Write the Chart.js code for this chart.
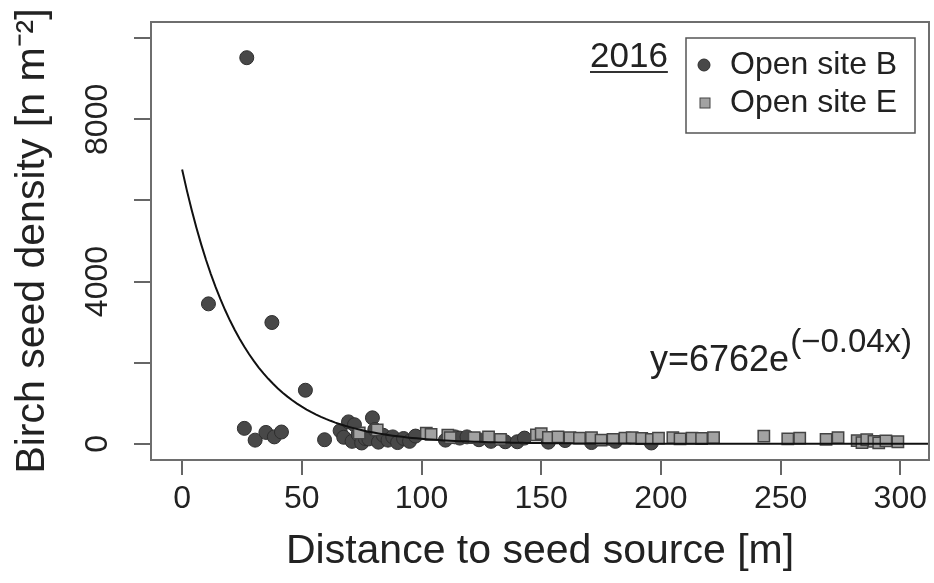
<!DOCTYPE html>
<html>
<head>
<meta charset="utf-8">
<script src="https://cdn.jsdelivr.net/npm/chart.js@4.4.1/dist/chart.umd.min.js"></script>
<style>
  html, body { margin: 0; padding: 0; background: #fff; }
  #wrap { width: 934px; height: 583px; }
</style>
</head>
<body>
<div id="wrap"><canvas id="myChart" width="934" height="583"></canvas></div>
<script>
// open site B (circles)
const siteB_x = [11, 27, 37.5, 51.5, 26, 30.5, 35, 38.5, 41.5, 59.5,
  66, 67.5, 69.5, 71, 72, 73.5, 75, 76.5, 78, 79.5,
  80.5, 82, 84, 86, 88, 90, 92.5, 95, 97.5,
  110, 114, 116, 119, 124, 129, 135, 140, 143,
  153, 160, 171, 181, 196]
const siteB_y = [3450, 9520, 2990, 1320, 380, 90, 280, 170, 290, 100,
  320, 160, 540, 60, 470, 230, 20, 130, 120, 640,
  350, 40, 210, 90, 170, 30, 130, 60, 190,
  90, 170, 140, 170, 100, 60, 50, 50, 140,
  40, 80, 30, 60, 20]

// open site E (squares)
const siteE_x = [74, 81.5, 102, 104, 111, 112, 122, 128, 133, 148,
  150, 153, 157, 162, 166, 171, 175, 180, 185, 188,
  192, 196, 199, 205, 208, 213, 217, 222, 243, 253,
  258, 269, 274, 282, 284, 286, 289, 291, 294, 299]
const siteE_y = [265, 340, 260, 230, 210, 150, 150, 170, 110, 220,
  250, 160, 170, 150, 140, 150, 90, 110, 140, 150,
  130, 110, 140, 150, 120, 140, 130, 150, 190, 120,
  140, 110, 150, 80, 30, 100, 60, 20, 70, 50]

const xTicks = [0, 50, 100, 150, 200, 250, 300]
const yTicks = [0, 2000, 4000, 6000, 8000, 10000]
const yTickLabels = ['0', '', '4000', '', '8000', '']

// fitted model shown on the chart: y = 6762 e^(-0.04x)
const fitA = 6762
const fitB = -0.04

const toPoints = (xs, ys) => xs.map((x, i) => ({x: x, y: ys[i]}))

let curve = []
for (let x = 0; x <= 312; x += 2) {
  curve.push({x: x, y: fitA * Math.exp(fitB * x)})
}

const FONT = "'Liberation Sans', Arial, sans-serif"

const extras = {
  id: 'extras',
  afterDraw(chart) {
    const ctx = chart.ctx
    const a = chart.chartArea
    ctx.save()
    // plot box
    ctx.strokeStyle = '#6e6e6e'
    ctx.lineWidth = 2
    ctx.strokeRect(a.left, a.top, a.right - a.left, a.bottom - a.top)

    // year label
    ctx.fillStyle = '#222'
    ctx.font = '35px ' + FONT
    ctx.textBaseline = 'alphabetic'
    ctx.textAlign = 'left'
    ctx.fillText('2016', 590, 67)
    let w = ctx.measureText('2016').width
    ctx.strokeStyle = '#333'
    ctx.beginPath()
    ctx.moveTo(590, 72)
    ctx.lineTo(590 + w, 72)
    ctx.stroke()

    // legend
    ctx.strokeStyle = '#555'
    ctx.lineWidth = 1.5
    ctx.strokeRect(686, 38, 229, 95)
    const dsB = chart.data.datasets[1]
    const dsE = chart.data.datasets[2]
    ctx.fillStyle = dsB.backgroundColor
    ctx.strokeStyle = dsB.borderColor
    ctx.lineWidth = 1
    ctx.beginPath()
    ctx.arc(704, 65, 6, 0, Math.PI * 2)
    ctx.fill()
    ctx.stroke()
    ctx.fillStyle = dsE.backgroundColor
    ctx.strokeStyle = dsE.borderColor
    ctx.fillRect(700, 98, 10, 10)
    ctx.strokeRect(700, 98, 10, 10)
    ctx.fillStyle = '#222'
    ctx.font = '32px ' + FONT
    ctx.textBaseline = 'middle'
    ctx.fillText(dsB.label, 730, 65)
    ctx.fillText(dsE.label, 730, 103)

    // equation
    ctx.textBaseline = 'alphabetic'
    ctx.font = '36px ' + FONT
    ctx.fillText('y=' + fitA + 'e', 650, 371)
    w = ctx.measureText('y=' + fitA + 'e').width
    ctx.font = '33px ' + FONT
    ctx.fillText('(\u2212' + Math.abs(fitB).toFixed(2) + 'x)', 650 + w + 1, 352)
    ctx.restore()
  }
}

new Chart(document.getElementById('myChart'), {
  type: 'scatter',
  data: {
    datasets: [
      {
        type: 'line',
        label: 'fit',
        data: curve,
        borderColor: '#111',
        borderWidth: 2,
        pointRadius: 0,
        fill: false,
        order: 0
      },
      {
        label: 'Open site B',
        data: toPoints(siteB_x, siteB_y),
        pointStyle: 'circle',
        pointRadius: 7,
        backgroundColor: '#484848',
        borderColor: '#2e2e2e',
        borderWidth: 1,
        order: 2
      },
      {
        label: 'Open site E',
        data: toPoints(siteE_x, siteE_y),
        pointStyle: 'rect',
        pointRadius: 8,
        backgroundColor: '#a2a2a2',
        borderColor: '#444',
        borderWidth: 1.5,
        order: 1
      }
    ]
  },
  options: {
    responsive: false,
    animation: false,
    layout: { autoPadding: false, padding: { top: 22, right: 5, left: 0, bottom: 0 } },
    plugins: {
      legend: { display: false },
      tooltip: { enabled: false }
    },
    scales: {
      x: {
        type: 'linear',
        min: -13,
        max: 312,
        afterBuildTicks: (scale) => { scale.ticks = xTicks.map(v => ({value: v})) },
        afterFit: (scale) => {
          scale.height = 123
          scale.paddingLeft = 0
          scale.paddingRight = 0
        },
        border: { display: false },
        grid: { display: true, drawOnChartArea: false, drawTicks: true, tickLength: 15, color: '#666', lineWidth: 2 },
        ticks: { autoSkip: false, maxRotation: 0, padding: 5, color: '#222', font: { family: FONT, size: 32 } },
        title: { display: true, text: 'Distance to seed source [m]', color: '#222', padding: { top: 0, bottom: 7 }, font: { family: FONT, size: 41 } }
      },
      y: {
        min: -400,
        max: 10400,
        afterBuildTicks: (scale) => { scale.ticks = yTicks.map(v => ({value: v})) },
        afterFit: (scale) => { scale.width = 151 },
        border: { display: false },
        grid: { display: true, drawOnChartArea: false, drawTicks: true, tickLength: 17, color: '#666', lineWidth: 2 },
        ticks: {
          autoSkip: false, minRotation: 90, maxRotation: 90, crossAlign: 'center', padding: 0,
          color: '#222', font: { family: FONT, size: 32 },
          callback: (value) => { const i = yTicks.indexOf(value); return i >= 0 ? yTickLabels[i] : '' }
        },
        title: { display: true, text: 'Birch seed density [n m\u207B\u00B2]', color: '#222', padding: { top: 8, bottom: 0 }, font: { family: FONT, size: 41 } }
      }
    }
  },
  plugins: [extras]
})
</script>
</body>
</html>
